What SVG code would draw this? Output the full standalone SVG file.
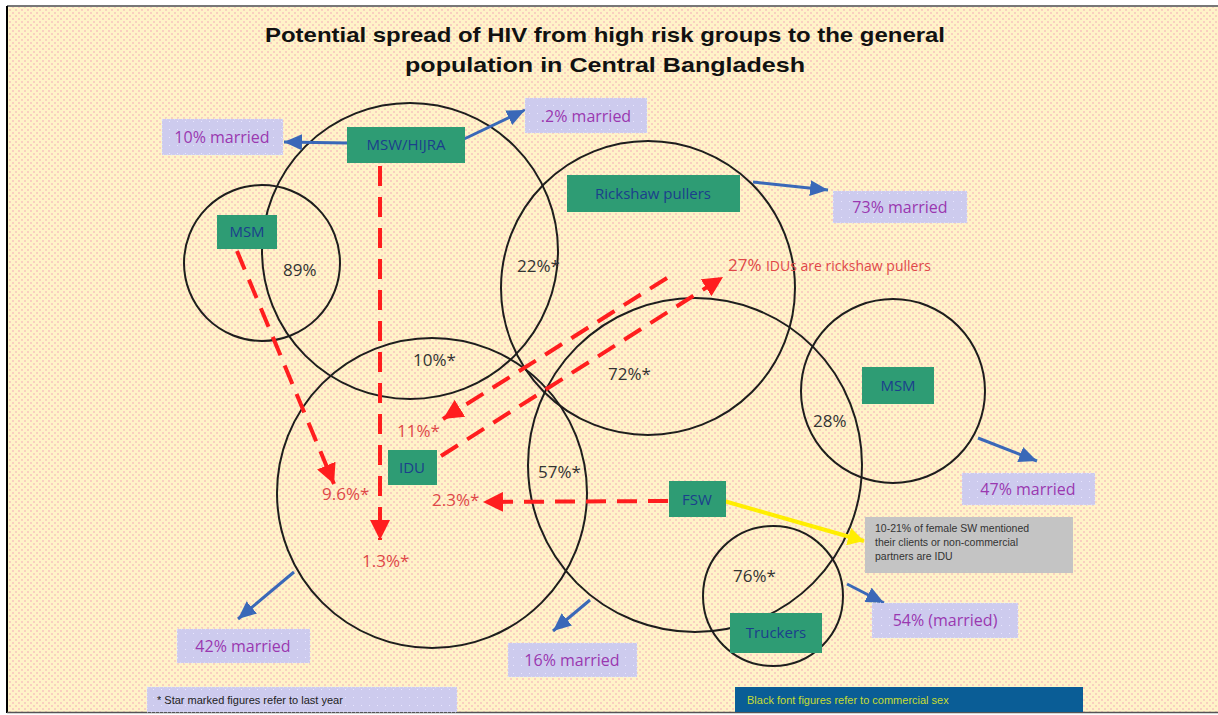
<svg xmlns="http://www.w3.org/2000/svg" width="1218" height="715" viewBox="0 0 1218 715">
<defs>
<pattern id="bg" width="6" height="6" patternUnits="userSpaceOnUse">
<rect width="6" height="6" fill="#fff3c8"/>
<rect x="0" y="0" width="2" height="2" fill="#f9cfc0"/>
<rect x="3" y="3" width="2" height="2" fill="#f9cfc0"/>
</pattern>
<pattern id="lav" width="8" height="8" patternUnits="userSpaceOnUse">
<rect width="8" height="8" fill="#cdcbee"/>
<rect x="1" y="1" width="1" height="1" fill="#e8e6ff"/>
</pattern>
<marker id="ar" markerUnits="userSpaceOnUse" markerWidth="22" markerHeight="20" refX="20" refY="10" orient="auto">
<path d="M0,0 L20,10 L0,20 z" fill="#ff1e1e"/>
</marker>
<marker id="ab" markerUnits="userSpaceOnUse" markerWidth="20" markerHeight="16" refX="18" refY="8" orient="auto">
<path d="M0,0 L18,8 L0,16 z" fill="#3a68b8"/>
</marker>
<marker id="ay" markerUnits="userSpaceOnUse" markerWidth="18" markerHeight="18" refX="16" refY="9" orient="auto">
<path d="M0,0 L16,9 L0,18 z" fill="#ffee00"/>
</marker>
</defs>
<style>
.circ{fill:none;stroke:#1e1e1e;stroke-width:2}
.node{fill:#2e9c74}
.nt{font-family:"Open Sans","Liberation Sans",sans-serif;font-size:15px;fill:#1b3f8c;text-anchor:middle}
.mb{fill:url(#lav);stroke:#e8e8ff;stroke-width:1;stroke-dasharray:1 3}
.mt{font-family:"Open Sans","Liberation Sans",sans-serif;font-size:16px;fill:#9a38b0;text-anchor:middle}
.pk{font-family:"Open Sans","Liberation Sans",sans-serif;font-size:17px;fill:#333}
.pr{font-family:"Open Sans","Liberation Sans",sans-serif;font-size:17px;fill:#e04848}
.red{fill:none;stroke:#ff1e1e;stroke-width:4;stroke-dasharray:20 11}
.blue{fill:none;stroke:#3a68b8;stroke-width:3}
.title{font-family:"Liberation Sans",sans-serif;font-weight:bold;font-size:21px;fill:#111;text-anchor:middle}
</style>
<rect width="1218" height="715" fill="#ffffff"/>
<rect x="7" y="7" width="1211" height="705" fill="url(#bg)"/>
<line x1="7" y1="6" x2="1218" y2="6" stroke="#777" stroke-width="2"/>
<line x1="7" y1="6" x2="7" y2="713" stroke="#000" stroke-width="2"/>
<line x1="7" y1="712.5" x2="1218" y2="712.5" stroke="#555" stroke-width="1.5"/>

<text class="title" x="605" y="42" textLength="680" lengthAdjust="spacingAndGlyphs">Potential spread of HIV from high risk groups to the general</text>
<text class="title" x="605" y="72" textLength="400" lengthAdjust="spacingAndGlyphs">population in Central Bangladesh</text>

<g id="circles">
<circle class="circ" cx="410" cy="251" r="148"/>
<circle class="circ" cx="262" cy="263" r="78"/>
<circle class="circ" cx="648" cy="288" r="147"/>
<circle class="circ" cx="432" cy="493" r="155"/>
<circle class="circ" cx="695" cy="465" r="167"/>
<circle class="circ" cx="893" cy="391" r="92"/>
<circle class="circ" cx="773" cy="596" r="70"/>
</g>

<g id="connectors">
<line class="red" x1="380" y1="166" x2="380" y2="540" marker-end="url(#ar)"/>
<line class="red" x1="237" y1="251" x2="334" y2="484" marker-end="url(#ar)"/>
<line class="red" x1="668" y1="501" x2="483" y2="502" marker-end="url(#ar)"/>
<line class="red" x1="667" y1="278" x2="443" y2="419" marker-end="url(#ar)"/>
<line class="red" x1="441" y1="456" x2="723" y2="277" marker-end="url(#ar)"/>
<line class="blue" x1="347" y1="143" x2="284" y2="142" marker-end="url(#ab)"/>
<line class="blue" x1="462" y1="140" x2="525" y2="110" marker-end="url(#ab)"/>
<line class="blue" x1="753" y1="182" x2="828" y2="190" marker-end="url(#ab)"/>
<line class="blue" x1="978" y1="438" x2="1037" y2="461" marker-end="url(#ab)"/>
<line class="blue" x1="847" y1="584" x2="884" y2="603" marker-end="url(#ab)"/>
<line class="blue" x1="590" y1="600" x2="553" y2="631" marker-end="url(#ab)"/>
<line class="blue" x1="294" y1="572" x2="238" y2="619" marker-end="url(#ab)"/>
<line x1="724" y1="501" x2="864" y2="541" stroke="#ffee00" stroke-width="4" marker-end="url(#ay)"/>
</g>

<g id="n-mswhijra"><rect class="node" x="347" y="127" width="118" height="36"/><text class="nt" x="406" y="150">MSW/HIJRA</text></g>
<g id="n-msm1"><rect class="node" x="217" y="215" width="60" height="34"/><text class="nt" x="247" y="237">MSM</text></g>
<g id="n-rickshaw"><rect class="node" x="567" y="175" width="173" height="37"/><text class="nt" x="653" y="199">Rickshaw pullers</text></g>
<g id="n-idu"><rect class="node" x="388" y="450" width="49" height="35"/><text class="nt" x="412" y="473">IDU</text></g>
<g id="n-fsw"><rect class="node" x="669" y="481" width="57" height="36"/><text class="nt" x="697" y="505">FSW</text></g>
<g id="n-msm2"><rect class="node" x="862" y="367" width="72" height="37"/><text class="nt" x="898" y="391">MSM</text></g>
<g id="n-truckers"><rect class="node" x="730" y="613" width="92" height="40"/><text class="nt" x="776" y="638">Truckers</text></g>

<g id="m-10"><rect class="mb" x="162" y="119" width="121" height="36"/><text class="mt" x="222" y="143">10% married</text></g>
<g id="m-2"><rect class="mb" x="525" y="98" width="122" height="35"/><text class="mt" x="586" y="122">.2% married</text></g>
<g id="m-73"><rect class="mb" x="833" y="191" width="134" height="32"/><text class="mt" x="900" y="213">73% married</text></g>
<g id="m-47"><rect class="mb" x="962" y="473" width="133" height="32"/><text class="mt" x="1028" y="495">47% married</text></g>
<g id="m-54"><rect class="mb" x="872" y="603" width="146" height="35"/><text class="mt" x="945" y="626">54% (married)</text></g>
<g id="m-16"><rect class="mb" x="508" y="643" width="129" height="34"/><text class="mt" x="572" y="666">16% married</text></g>
<g id="m-42"><rect class="mb" x="177" y="629" width="133" height="34"/><text class="mt" x="243" y="652">42% married</text></g>

<g id="note-idu">
<rect x="865" y="517" width="208" height="56" fill="#c4c4c4"/>
<text font-family="Liberation Sans, sans-serif" font-size="10.5" fill="#333">
<tspan x="875" y="532">10-21% of female SW mentioned</tspan>
<tspan x="875" y="546">their clients or non-commercial</tspan>
<tspan x="875" y="560">partners are IDU</tspan>
</text>
</g>

<g id="footnote-star"><rect class="mb" x="147" y="687" width="310" height="25"/><text font-family="Liberation Sans, sans-serif" font-size="11" fill="#222" x="157" y="704">* Star marked figures refer to last year</text></g>
<g id="footnote-black"><rect x="735" y="687" width="348" height="25" fill="#0a5d96"/><text font-family="Liberation Sans, sans-serif" font-size="11" fill="#c8dc32" x="747" y="704">Black font figures refer to commercial sex</text></g>

<g id="labels">
<text class="pk" x="283" y="276">89%</text>
<text class="pk" x="517" y="272">22%*</text>
<text class="pk" x="413" y="366">10%*</text>
<text class="pk" x="608" y="380">72%*</text>
<text class="pk" x="538" y="478">57%*</text>
<text class="pk" x="813" y="427">28%</text>
<text class="pk" x="733" y="582">76%*</text>
<text class="pr" x="728" y="271">27% <tspan font-size="14">IDUs are rickshaw pullers</tspan></text>
<text class="pr" x="397" y="437">11%*</text>
<text class="pr" x="322" y="500">9.6%*</text>
<text class="pr" x="432" y="506">2.3%*</text>
<text class="pr" x="362" y="567">1.3%*</text>
</g>
</svg>
